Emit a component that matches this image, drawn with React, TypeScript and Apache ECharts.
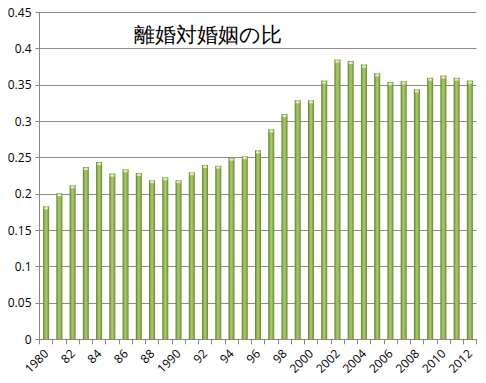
import React, { useEffect, useRef } from "react";
import * as echarts from "echarts";

const categories: string[] = [
  "1980", "1981", "1982", "1983", "1984", "1985", "1986", "1987", "1988", "1989",
  "1990", "1991", "1992", "1993", "1994", "1995", "1996", "1997", "1998", "1999",
  "2000", "2001", "2002", "2003", "2004", "2005", "2006", "2007", "2008", "2009",
  "2010", "2011", "2012",
];
const ratios: number[] = [
  0.183, 0.201, 0.212, 0.237, 0.244, 0.228, 0.234, 0.229, 0.219, 0.223,
  0.219, 0.230, 0.240, 0.239, 0.250, 0.252, 0.260, 0.289, 0.310, 0.329,
  0.329, 0.356, 0.385, 0.383, 0.378, 0.366, 0.354, 0.355, 0.344, 0.360,
  0.363, 0.360, 0.356,
];
const title = "離婚対婚姻の比";

function shortLabel(v: string): string {
  const y = parseInt(v, 10);
  if (y % 10 === 0 || y >= 2000) return v;
  return v.slice(2);
}

export default function App() {
  const ref = useRef<HTMLDivElement>(null);
  useEffect(() => {
    if (!ref.current) return;
    const chart = echarts.init(ref.current, undefined, { renderer: "svg" });
    chart.setOption({
      animation: false,
      backgroundColor: "#ffffff",
      title: {
        text: title,
        left: 203,
        top: 19,
        textAlign: "center",
        textStyle: {
          fontFamily: "serif",
          fontWeight: "normal",
          fontSize: 21,
          color: "#000",
        },
      },
      grid: { left: 39.5, right: 9.5, top: 12.3, bottom: 43.7, containLabel: false },
      xAxis: {
        type: "category",
        data: categories,
        boundaryGap: true,
        axisLine: { lineStyle: { color: "#868686" } },
        axisTick: { show: true, interval: 0, length: 5, lineStyle: { color: "#868686" } },
        axisLabel: {
          interval: 1,
          rotate: 45,
          fontFamily: "'Open Sans', sans-serif",
          fontSize: 12,
          color: "#000",
          margin: 12,
          formatter: (v: string) => shortLabel(v),
        },
      },
      yAxis: {
        type: "value",
        min: 0,
        max: 0.45,
        interval: 0.05,
        axisLine: { show: true, lineStyle: { color: "#868686" } },
        axisTick: { show: true, length: 4, lineStyle: { color: "#868686" } },
        splitLine: { lineStyle: { color: "#8c8c8c", width: 1 } },
        axisLabel: {
          fontFamily: "'Open Sans', sans-serif",
          fontSize: 12,
          color: "#000",
          margin: 8,
          formatter: (v: number) => String(Math.round(v * 100) / 100),
        },
      },
      series: [
        {
          type: "bar",
          data: ratios,
          barWidth: 6,
          itemStyle: {
            color: new echarts.graphic.LinearGradient(0, 0, 1, 0, [
              { offset: 0, color: "#5f7a2c" },
              { offset: 0.35, color: "#9cc25a" },
              { offset: 0.55, color: "#a6cb64" },
              { offset: 1, color: "#6a8632" },
            ]),
          },
        },
        {
          type: "pictorialBar",
          data: ratios,
          symbol: "rect",
          symbolSize: [4, 2],
          symbolPosition: "end",
          symbolOffset: [0, 1],
          barGap: "-100%",
          silent: true,
          z: 5,
          itemStyle: { color: "#e2f0b8" },
        },
      ],
    });
    return () => chart.dispose();
  }, []);
  return <div ref={ref} style={{ width: 486, height: 383, margin: -8 }} />;
}
